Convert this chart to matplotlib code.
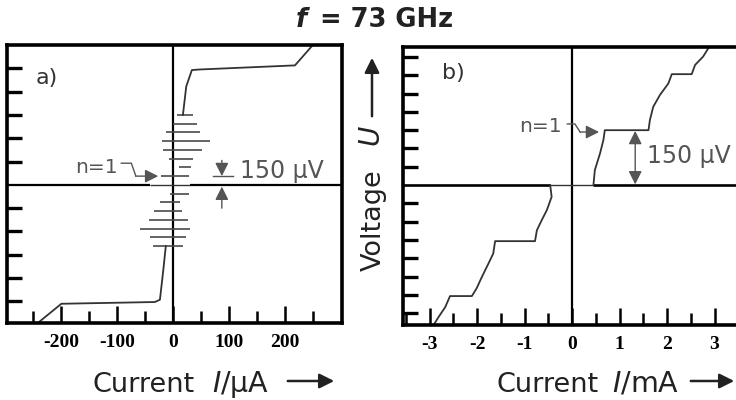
import numpy as np
import matplotlib.pyplot as plt
from matplotlib.patches import FancyArrowPatch

plt.rcParams['font.family'] = ['DejaVu Sans']
plt.rcParams['axes.unicode_minus'] = False

W, H = 736, 400

# a) current in µA, voltage in mV
a_upper_i = [18, 24, 34, 48, 218, 250]
a_upper_u = [1.20, 1.69, 1.97, 1.98, 2.05, 2.40]
a_lower_i = [-12.5, -17, -23, -32, -199, -241]
a_lower_u = [-1.05, -1.46, -1.97, -2.01, -2.04, -2.37]
# Shapiro steps (voltage, left end, right end)
a_step_u = [1.20, 1.05, 0.90, 0.75, 0.60, 0.45, 0.30, 0.15,
            -0.15, -0.30, -0.45, -0.60, -0.75, -0.90, -1.05]
a_step_left = [7, 0, -13, -20, -17, -6, 11, -21,
               -5, -22, -34, -43, -59, -41, -36]
a_step_right = [36, 43, 48, 66, 52, 36, 33, 28,
                29, 12, 16, 27, 30, 23, 18]
a_ticks = [-200, -100, 0, 100, 200]
a_tick_labels = ['-200', '-100', '0', '100', '200']
a_minor = [-250, -150, -50, 50, 150, 250]

# b) current in mA, voltage in mV
b_upper_i = [0.45, 0.48, 0.59, 0.66, 0.69, 1.61, 1.64, 1.71, 1.85, 2.03, 2.10,
             2.52, 2.59, 2.76, 2.90]
b_upper_u = [0.0, 0.041, 0.087, 0.123, 0.150, 0.150, 0.178, 0.214, 0.246, 0.278,
             0.303, 0.303, 0.328, 0.351, 0.380]
b_lower_i = [-0.46, -0.43, -0.53, -0.64, -0.74, -0.78, -1.62, -1.66, -1.76, -1.90,
             -2.01, -2.11, -2.57, -2.67, -2.81, -2.93]
b_lower_u = [0.0, -0.032, -0.068, -0.096, -0.123, -0.153, -0.153, -0.187, -0.214,
             -0.251, -0.282, -0.303, -0.303, -0.333, -0.360, -0.385]
b_zero_i = [-0.46, 0.45]
b_zero_u = [0.0, 0.0]
b_ticks = [-3, -2, -1, 0, 1, 2, 3]
b_tick_labels = ['-3', '-2', '-1', '0', '1', '2', '3']
b_minor = [-3.5, -2.5, -1.5, -0.5, 0.5, 1.5, 2.5, 3.5]

curve_c = '#333333'
note_c = '#555555'


def fx(x, y):
    return x / W, 1 - y / H


fig = plt.figure(figsize=(7.36, 4), dpi=100)
ax_a = fig.add_axes([7 / W, 1 - 323 / H, 335 / W, 278 / H])
ax_b = fig.add_axes([403 / W, 1 - 325 / H, 340 / W, 278.3 / H])

for ax in (ax_a, ax_b):
    for s in ax.spines.values():
        s.set_linewidth(2.6)
    ax.tick_params(axis='x', which='major', direction='in', length=12, width=1.8,
                   pad=8, top=False)
    ax.tick_params(axis='x', which='minor', direction='in', length=8.5, width=1.8,
                   top=False)
    ax.tick_params(axis='y', which='major', direction='in', length=11, width=2.4,
                   right=False, labelleft=False)
    ax.axvline(0, color='k', lw=1.6)

# ---- panel a
ax_a.set_xlim(-296, 302)
ax_a.set_ylim(-2.37, 2.40)
ax_a.set_xticks(a_ticks)
ax_a.set_xticklabels(a_tick_labels, fontfamily='Liberation Serif',
                     fontweight='bold', fontsize=14)
ax_a.set_xticks(a_minor, minor=True)
ax_a.set_yticks([-2.0, -1.6, -1.2, -0.8, -0.4, 0.4, 0.8, 1.2, 1.6, 2.0])
ax_a.hlines([0, 0], [-300, 30], [-40, 310], color='k', lw=1.6)
ax_a.hlines(0, -40, 30, color=curve_c, lw=1)
ax_a.hlines(a_step_u, a_step_left, a_step_right, color='#4a4a4a', lw=1.2)
ax_a.plot(a_upper_i, a_upper_u, color=curve_c, lw=1.3)
ax_a.plot(a_lower_i, a_lower_u, color=curve_c, lw=1.3)

ax_a.text(0.084, 0.88, 'a)', transform=ax_a.transAxes, fontsize=16,
          color='#333333', va='center', ha='left')
ax_a.text(-136, 0.29, 'n=1', fontsize=14.5, color=note_c, ha='center', va='center')
ax_a.plot([-92, -74, -66], [0.372, 0.372, 0.15], color=note_c, lw=1)
ax_a.annotate('', xy=(-26, 0.15), xytext=(-66, 0.15),
              arrowprops=dict(arrowstyle='-|>', color=note_c, lw=1,
                              mutation_scale=20, shrinkA=0, shrinkB=0))
ax_a.annotate('', xy=(87.5, 0.15), xytext=(87.5, 0.42),
              arrowprops=dict(arrowstyle='-|>', color=note_c, lw=1,
                              mutation_scale=20, shrinkA=0, shrinkB=0))
ax_a.annotate('', xy=(87.5, -0.03), xytext=(87.5, -0.40),
              arrowprops=dict(arrowstyle='-|>', color=note_c, lw=1,
                              mutation_scale=20, shrinkA=0, shrinkB=0))
ax_a.plot([71, 107], [0.15, 0.15], color=note_c, lw=1)
ax_a.text(120, 0.12, '150 µV', fontsize=17, color=note_c, ha='left', va='baseline')

# ---- panel b
ax_b.set_xlim(-3.56, 3.6)
ax_b.set_ylim(-0.382, 0.378)
ax_b.set_xticks(b_ticks)
ax_b.set_xticklabels(b_tick_labels, fontfamily='Liberation Serif',
                     fontweight='bold', fontsize=14)
ax_b.set_xticks(b_minor, minor=True)
ax_b.set_yticks([-0.35, -0.30, -0.25, -0.20, -0.15, -0.10, -0.05,
                 0.05, 0.10, 0.15, 0.20, 0.25, 0.30, 0.35])
ax_b.hlines([0, 0], [-4, 0.45], [-0.46, 4], color='k', lw=1.9)
ax_b.plot(b_zero_i, b_zero_u, color=curve_c, lw=1)
ax_b.plot(b_upper_i, b_upper_u, color=curve_c, lw=1.3)
ax_b.plot(b_lower_i, b_lower_u, color=curve_c, lw=1.3)

ax_b.text(0.116, 0.907, 'b)', transform=ax_b.transAxes, fontsize=16,
          color='#333333', va='center', ha='left')
ax_b.text(-0.66, 0.161, 'n=1', fontsize=14.5, color=note_c, ha='center', va='center')
ax_b.plot([-0.10, 0.06, 0.17], [0.167, 0.167, 0.145], color=note_c, lw=1)
ax_b.annotate('', xy=(0.57, 0.145), xytext=(0.17, 0.145),
              arrowprops=dict(arrowstyle='-|>', color=note_c, lw=1,
                              mutation_scale=20, shrinkA=0, shrinkB=0))
ax_b.annotate('', xy=(1.33, 0.148), xytext=(1.33, 0.002),
              arrowprops=dict(arrowstyle='<|-|>', color=note_c, lw=1,
                              mutation_scale=20, shrinkA=0, shrinkB=0))
ax_b.text(1.58, 0.06, '150 µV', fontsize=17, color=note_c, ha='left', va='baseline')

# ---- titles and axis labels
fig.text(*fx(301, 26.7), 'f', fontsize=18.5, fontweight='bold', fontstyle='italic',
         ha='center', va='baseline', color='#222222')
fig.text(*fx(320, 26.7), '= 73 GHz', fontsize=18.5, fontweight='bold',
         ha='left', va='baseline', color='#222222')

fig.text(*fx(93, 392), 'Current', fontsize=19.5, ha='left', va='baseline', color='#222222')
fig.text(*fx(240, 392), '$I$/µA', fontsize=20.5, ha='center', va='baseline', color='#222222')
fig.text(*fx(497, 392), 'Current', fontsize=19.5, ha='left', va='baseline', color='#222222')
fig.text(*fx(646, 392), '$I$/mA', fontsize=20.5, ha='center', va='baseline', color='#222222')
for x0, x1 in [(285, 337), (688, 737)]:
    fig.add_artist(FancyArrowPatch(
        fx(x0, 381), fx(x1, 381), transform=fig.transFigure,
        arrowstyle='-|>', mutation_scale=22, color='#222222', lw=1.8))

fig.text(*fx(374, 220), 'Voltage', fontsize=19.5, rotation=90, ha='center',
         va='center', color='#222222')
fig.text(*fx(372, 136), '$U$', fontsize=20, rotation=90, ha='center',
         va='center', color='#222222')
fig.add_artist(FancyArrowPatch(
    fx(372, 119), fx(372, 55), transform=fig.transFigure,
    arrowstyle='-|>', mutation_scale=22, color='#222222', lw=1.8))

fig.savefig('out.png', dpi=100)
